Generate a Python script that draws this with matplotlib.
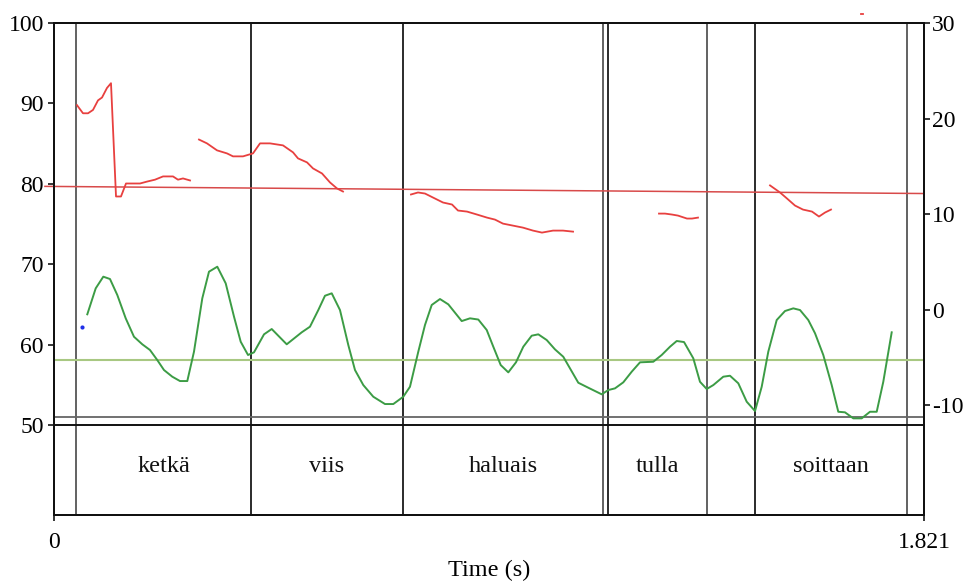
import matplotlib
matplotlib.use("Agg")
import matplotlib.pyplot as plt

plt.rcParams['font.family'] = ['Liberation Serif', 'DejaVu Serif']
plt.rcParams['axes.unicode_minus'] = False

# interval tier: boundaries (s) and words
boundaries = [0.0467, 0.4130, 0.7298, 1.1498, 1.1602, 1.3662, 1.4673, 1.7861]
words = [("ketkä", 0.0467, 0.4130), ("viis", 0.4130, 0.7298),
         ("haluais", 0.7298, 1.1498), ("tulla", 1.1602, 1.3662),
         ("soittaan", 1.4673, 1.7861)]
dark_bounds = [0.4130, 0.7298, 1.1602, 1.4673]

# pitch (semitones, right axis), one list per voiced stretch
pitch_t = [
    [0.0481, 0.0607, 0.0712, 0.0816, 0.0921, 0.1005, 0.1109, 0.1193, 0.1298, 0.1402,
     0.1507, 0.1633, 0.1800, 0.1947, 0.2114, 0.2282, 0.2386, 0.2491, 0.2595, 0.2700, 0.2847],
    [0.3035, 0.3202, 0.3412, 0.3621, 0.3747, 0.3956, 0.4165, 0.4312, 0.4521, 0.4793,
     0.5003, 0.5107, 0.5296, 0.5421, 0.5610, 0.5777, 0.5924, 0.6049],
    [0.7472, 0.7619, 0.7765, 0.7933, 0.8142, 0.8331, 0.8456, 0.8645, 0.8854, 0.9063,
     0.9231, 0.9398, 0.9608, 0.9817, 1.0026, 1.0214, 1.0445, 1.0654, 1.0864],
    [1.2663, 1.2789, 1.2935, 1.3061, 1.3249, 1.3354, 1.3479],
    [1.4987, 1.5196, 1.5342, 1.5510, 1.5677, 1.5866, 1.6012, 1.6138, 1.6263],
]
pitch_st = [
    [21.4, 20.55, 20.55, 20.9, 21.9, 22.2, 23.2, 23.7, 11.84, 11.84,
     13.2, 13.2, 13.2, 13.4, 13.6, 13.94, 13.94, 13.94, 13.6, 13.73, 13.52],
    [17.8, 17.4, 16.67, 16.35, 16.04, 16.04, 16.35, 17.4, 17.4, 17.19,
     16.46, 15.83, 15.41, 14.78, 14.25, 13.31, 12.68, 12.36],
    [12.05, 12.26, 12.15, 11.73, 11.21, 11.0, 10.37, 10.26, 9.95, 9.63,
     9.42, 9.0, 8.79, 8.58, 8.27, 8.06, 8.27, 8.27, 8.16],
    [10.05, 10.05, 9.95, 9.84, 9.53, 9.53, 9.63],
    [13.0, 12.26, 11.63, 10.89, 10.47, 10.26, 9.74, 10.16, 10.47],
]
pitch_trend_t = [-0.019, 1.821]
pitch_trend = [12.9, 12.15]
stray_t = [1.689, 1.693]
stray_st = [30.98, 30.98]

# intensity (dB, left axis)
int_t = [0.0697, 0.0873, 0.1032, 0.1172, 0.1325, 0.1501, 0.1674, 0.1848, 0.2009, 0.2162,
         0.2302, 0.2476, 0.2637, 0.2790, 0.2930, 0.3104, 0.3244, 0.3418, 0.3594, 0.3768,
         0.3908, 0.4061, 0.4186, 0.4396, 0.4557, 0.4871, 0.5185, 0.5358, 0.5532, 0.5672,
         0.5813, 0.5986, 0.6160, 0.6300, 0.6474, 0.6683, 0.6928, 0.7102, 0.7311, 0.7451,
         0.7625, 0.7765, 0.7906, 0.8079, 0.8253, 0.8534, 0.8707, 0.8881, 0.9057, 0.9195,
         0.9350, 0.9509, 0.9670, 0.9823, 0.9999, 1.0137, 1.0313, 1.0486, 1.0660, 1.0800,
         1.0974, 1.1183, 1.1464, 1.1602, 1.1742, 1.1916, 1.2092, 1.2266, 1.2544, 1.2720,
         1.2894, 1.3034, 1.3187, 1.3381, 1.3521, 1.3662, 1.3800, 1.4009, 1.4149, 1.4323,
         1.4499, 1.4673, 1.4813, 1.4951, 1.5127, 1.5301, 1.5474, 1.5615, 1.5788, 1.5929,
         1.6102, 1.6278, 1.6416, 1.6556, 1.6730, 1.6906, 1.7080, 1.7220, 1.7358, 1.7534]
int_db = [63.77, 67.0, 68.45, 68.16, 66.17, 63.27, 60.98, 60.04, 59.33, 58.08,
          56.84, 56.01, 55.47, 55.47, 59.12, 65.76, 69.07, 69.69, 67.62, 63.47,
          60.36, 58.71, 59.04, 61.28, 61.94, 60.04, 61.53, 62.23, 64.30, 66.08,
          66.38, 64.30, 59.95, 56.84, 54.97, 53.52, 52.61, 52.61, 53.52, 54.76,
          59.12, 62.44, 64.93, 65.67, 65.01, 62.93, 63.27, 63.12, 61.82, 59.74,
          57.46, 56.55, 57.80, 59.74, 61.11, 61.28, 60.57, 59.41, 58.49, 57.05,
          55.26, 54.64, 53.82, 54.35, 54.56, 55.31, 56.63, 57.80, 57.87, 58.71,
          59.74, 60.45, 60.32, 58.30, 55.38, 54.48, 54.97, 56.01, 56.13, 55.19,
          52.90, 51.74, 54.76, 59.12, 63.06, 64.18, 64.51, 64.30, 63.06, 61.41,
          58.71, 54.97, 51.65, 51.58, 50.83, 50.83, 51.65, 51.65, 55.38, 61.53]
int_mean = 58.08
blue_t = [0.0593]
blue_db = [62.23]

fig = plt.figure(figsize=(9.68, 5.81), dpi=100)
ax = fig.add_axes([54/968, 66/581, 870/968, 492/581])
ax.set_xlim(0, 1.821)
ax.set_ylim(38.81, 100)
ax2 = ax.twinx()
ax2.set_ylim(-21.5, 30)

# tier boundaries and tier box lines
for b in boundaries:
    col = '#1a1a1a' if b in dark_bounds else '#555555'
    ax.axvline(b, color=col, lw=1.3, zorder=1)
ax.axhline(51.0, color='#666666', lw=1.3, zorder=1)
ax.axhline(50.0, color='#111111', lw=1.4, zorder=1)

for w, a, b in words:
    ax.text((a + b) / 2, 44.78, w, ha='center', va='center', fontsize=17.5, color='#111111')

# intensity
ax.axhline(int_mean, color='#a8c882', lw=1.5, zorder=2)
ax.plot(int_t, int_db, color='#3c9c45', lw=1.4, zorder=3)
ax.plot(blue_t, blue_db, 'o', color='#1f2fe8', ms=3, mew=0, zorder=3)

# pitch
ax2.plot(pitch_trend_t, pitch_trend, color='#d84a4a', lw=1.1, clip_on=False, zorder=2)
for t, v in zip(pitch_t, pitch_st):
    ax2.plot(t, v, color='#e8403f', lw=1.3, zorder=3)
ax2.plot(stray_t, stray_st, color='#e8403f', lw=1.3, clip_on=False)

# axes styling
for a in (ax, ax2):
    for s in a.spines.values():
        s.set_linewidth(1.4)
        s.set_color('#111111')
ax.set_yticks([50, 60, 70, 80, 90, 100])
ax.set_yticklabels(['50', '60', '70', '80', '90', '100'])
ax.tick_params(axis='y', direction='out', length=4.3, width=1.1, pad=3, labelsize=17)
ax.set_xticks([0, 1.821])
ax.set_xticklabels(['0', '1.821'])
ax.tick_params(axis='x', direction='out', length=4, width=1.1, pad=8, labelsize=17)
ax2.set_yticks([-10, 0, 10, 20, 30])
ax2.set_yticklabels(['-10', '0', '10', '20', '30'])
ax2.tick_params(axis='y', direction='out', length=4.3, width=1.1, pad=1.5, labelsize=17)
ax.set_xlabel('Time (s)', fontsize=17.5, labelpad=5)

fig.savefig('out.png', dpi=100)
